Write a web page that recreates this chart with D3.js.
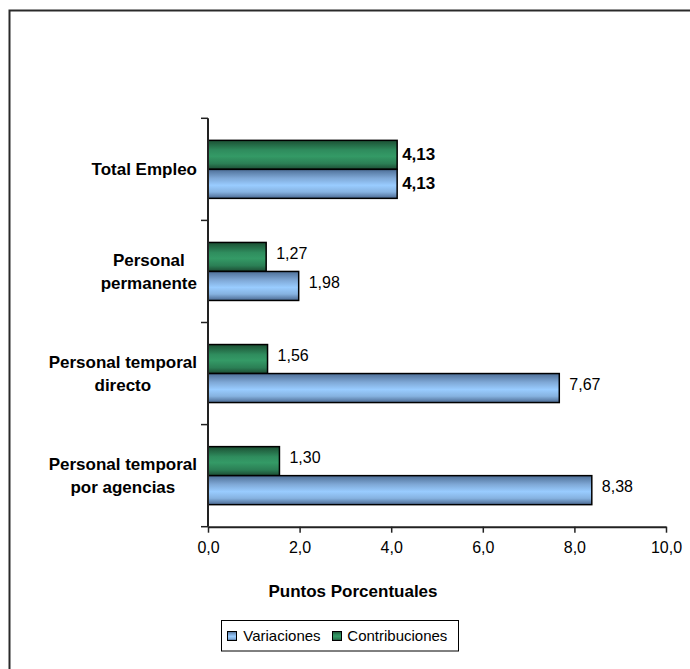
<!DOCTYPE html>
<html>
<head>
<meta charset="utf-8">
<script src="https://cdn.jsdelivr.net/npm/d3@7"></script>
<style>
  html, body { margin: 0; padding: 0; background: #fff; }
  svg { display: block; font-family: "Liberation Sans", Arial, sans-serif; }
</style>
</head>
<body>
<svg id="chart" width="690" height="669"></svg>
<script>
// ---- Data ----
const categories = ["Total Empleo", "Personal permanente", "Personal temporal directo", "Personal temporal por agencias"];
const categoryLines = [["Total Empleo"], ["Personal", "permanente"], ["Personal temporal", "directo"], ["Personal temporal", "por agencias"]];
const seriesNames = ["Variaciones", "Contribuciones"];
const variaciones = [4.13, 1.98, 7.67, 8.38];
const contribuciones = [4.13, 1.27, 1.30, 1.56];          // bar lengths as drawn
const variacionesLabels = ["4,13", "1,98", "7,67", "8,38"];
const contribucionesLabels = ["4,13", "1,27", "1,56", "1,30"]; // labels as printed
const boldLabel = [true, false, false, false];
const xTicks = [0, 2, 4, 6, 8, 10];
const xTitle = "Puntos Porcentuales";

// ---- Layout ----
const svg = d3.select("#chart");
const x = d3.scaleLinear().domain([0, 10]).range([208, 666]);
const y = d3.scaleBand().domain(categories).range([118.3, 526.7]).padding(0);
const inner = d3.scaleBand().domain(["Contribuciones", "Variaciones"]).range([0, y.bandwidth()])
  .paddingInner(0).paddingOuter(0.76);

// gradients
const defs = svg.append("defs");
function grad(id, stops) {
  const g = defs.append("linearGradient").attr("id", id).attr("x1", 0).attr("y1", 0).attr("x2", 0).attr("y2", 1);
  stops.forEach(s => g.append("stop").attr("offset", s[0]).attr("stop-color", s[1]));
}
grad("gGreen", [[0, "#1b4f33"], [0.35, "#2f8d5e"], [0.55, "#349a66"], [0.8, "#2b7f55"], [1, "#1c4a32"]]);
grad("gBlue", [[0, "#4d6e96"], [0.3, "#7fa8d6"], [0.55, "#99ccff"], [0.78, "#86b2e0"], [1, "#4a6890"]]);

// border (right/bottom edges lie outside the picture)
svg.append("rect").attr("x", 9.5).attr("y", 10.5).attr("width", 1000).attr("height", 1000)
  .attr("fill", "none").attr("stroke", "#2a2a2a").attr("stroke-width", 2);

// data rows
const rows = categories.map((c, i) => ({
  c, v: variaciones[i], k: contribuciones[i],
  vl: variacionesLabels[i], kl: contribucionesLabels[i], bold: boldLabel[i], lines: categoryLines[i]
}));

const g = svg.append("g");
// green bars (Contribuciones)
g.selectAll("rect.k").data(rows).join("rect").attr("class", "k")
  .attr("x", x(0)).attr("y", d => y(d.c) + inner("Contribuciones"))
  .attr("width", d => x(d.k) - x(0)).attr("height", inner.bandwidth())
  .attr("fill", "url(#gGreen)").attr("stroke", "#000").attr("stroke-width", 1.5);
// blue bars (Variaciones)
g.selectAll("rect.v").data(rows).join("rect").attr("class", "v")
  .attr("x", x(0)).attr("y", d => y(d.c) + inner("Variaciones"))
  .attr("width", d => x(d.v) - x(0)).attr("height", inner.bandwidth())
  .attr("fill", "url(#gBlue)").attr("stroke", "#000").attr("stroke-width", 1.5);

// value labels
function labelAttrs(sel, valKey, lblKey, series) {
  sel.attr("x", d => x(d[valKey]) + (d.bold ? 5 : 10))
    .attr("y", d => y(d.c) + inner(series) + inner.bandwidth() / 2 + (d.bold ? 5.5 : 2.3))
    .attr("font-size", d => d.bold ? "17px" : "16px")
    .attr("font-weight", d => d.bold ? "bold" : "normal")
    .attr("fill", "#000")
    .text(d => d[lblKey]);
}
g.selectAll("text.kl").data(rows).join("text").attr("class", "kl").call(labelAttrs, "k", "kl", "Contribuciones");
g.selectAll("text.vl").data(rows).join("text").attr("class", "vl").call(labelAttrs, "v", "vl", "Variaciones");

// x axis
const xAxis = svg.append("g").attr("transform", `translate(0,${y.range()[1]})`)
  .call(d3.axisBottom(x).tickValues(xTicks).tickSize(6).tickSizeOuter(0)
    .tickFormat(d => d3.format(".1f")(d).replace(".", ",")));
xAxis.select(".domain").attr("stroke", "#222").attr("stroke-width", 2);
xAxis.selectAll(".tick line").attr("stroke", "#222").attr("stroke-width", 1.5);
xAxis.selectAll(".tick text").attr("font-size", "16px").attr("font-family", "Liberation Sans, Arial, sans-serif")
  .attr("fill", "#000").attr("dy", "0").attr("y", 26);

// y axis (ticks at category boundaries)
const yAxis = svg.append("g");
yAxis.append("line").attr("x1", x(0)).attr("x2", x(0)).attr("y1", y.range()[0]).attr("y2", y.range()[1])
  .attr("stroke", "#222").attr("stroke-width", 2);
const bounds = categories.map(c => y(c)).concat([y.range()[1]]);
yAxis.selectAll("line.t").data(bounds).join("line").attr("class", "t")
  .attr("x1", x(0) - 7).attr("x2", x(0)).attr("y1", d => d).attr("y2", d => d)
  .attr("stroke", "#222").attr("stroke-width", 1.5);

// category labels: centred lines, block right edge near the axis
const catG = svg.append("g");
rows.forEach(d => {
  const cy = y(d.c) + y.bandwidth() / 2;
  const n = d.lines.length;
  const lh = 22.5;
  const t = catG.append("text").attr("font-size", "17px").attr("font-weight", "bold")
    .attr("text-anchor", "middle").attr("fill", "#000");
  const widths = [];
  d.lines.forEach((ln, j) => {
    t.append("tspan").attr("x", 0).attr("y", cy + 6 + (j - (n - 1) / 2) * lh).text(ln);
  });
  const bb = t.node().getBBox();
  t.attr("transform", `translate(${197 - bb.width / 2 - bb.x - bb.width / 2 + bb.width / 2 - bb.width / 2 + bb.width/2},0)`);
  const bb2 = t.node().getBBox();
  // position so the right edge of widest line is at 197
  t.attr("transform", `translate(${197 - (bb2.x + bb2.width)},0)`);
});

// axis title
svg.append("text").attr("x", 353).attr("y", 596.5).attr("text-anchor", "middle")
  .attr("font-size", "17px").attr("font-weight", "bold").attr("fill", "#000").text(xTitle);

// legend
const lg = svg.append("g");
lg.append("rect").attr("x", 221.5).attr("y", 620.5).attr("width", 237).attr("height", 30.5)
  .attr("fill", "#fff").attr("stroke", "#000").attr("stroke-width", 1);
const legendItems = [
  { name: seriesNames[0], fill: "url(#gBlue)", mx: 227.5, tx: 243.3 },
  { name: seriesNames[1], fill: "url(#gGreen)", mx: 332.5, tx: 347.3 }
];
lg.selectAll("rect.m").data(legendItems).join("rect").attr("class", "m")
  .attr("x", d => d.mx).attr("y", 631.5).attr("width", 9).attr("height", 9)
  .attr("fill", d => d.fill).attr("stroke", "#000").attr("stroke-width", 1);
lg.selectAll("text").data(legendItems).join("text")
  .attr("x", d => d.tx).attr("y", 641).attr("font-size", "15px").attr("fill", "#000").text(d => d.name);
</script>
</body>
</html>
